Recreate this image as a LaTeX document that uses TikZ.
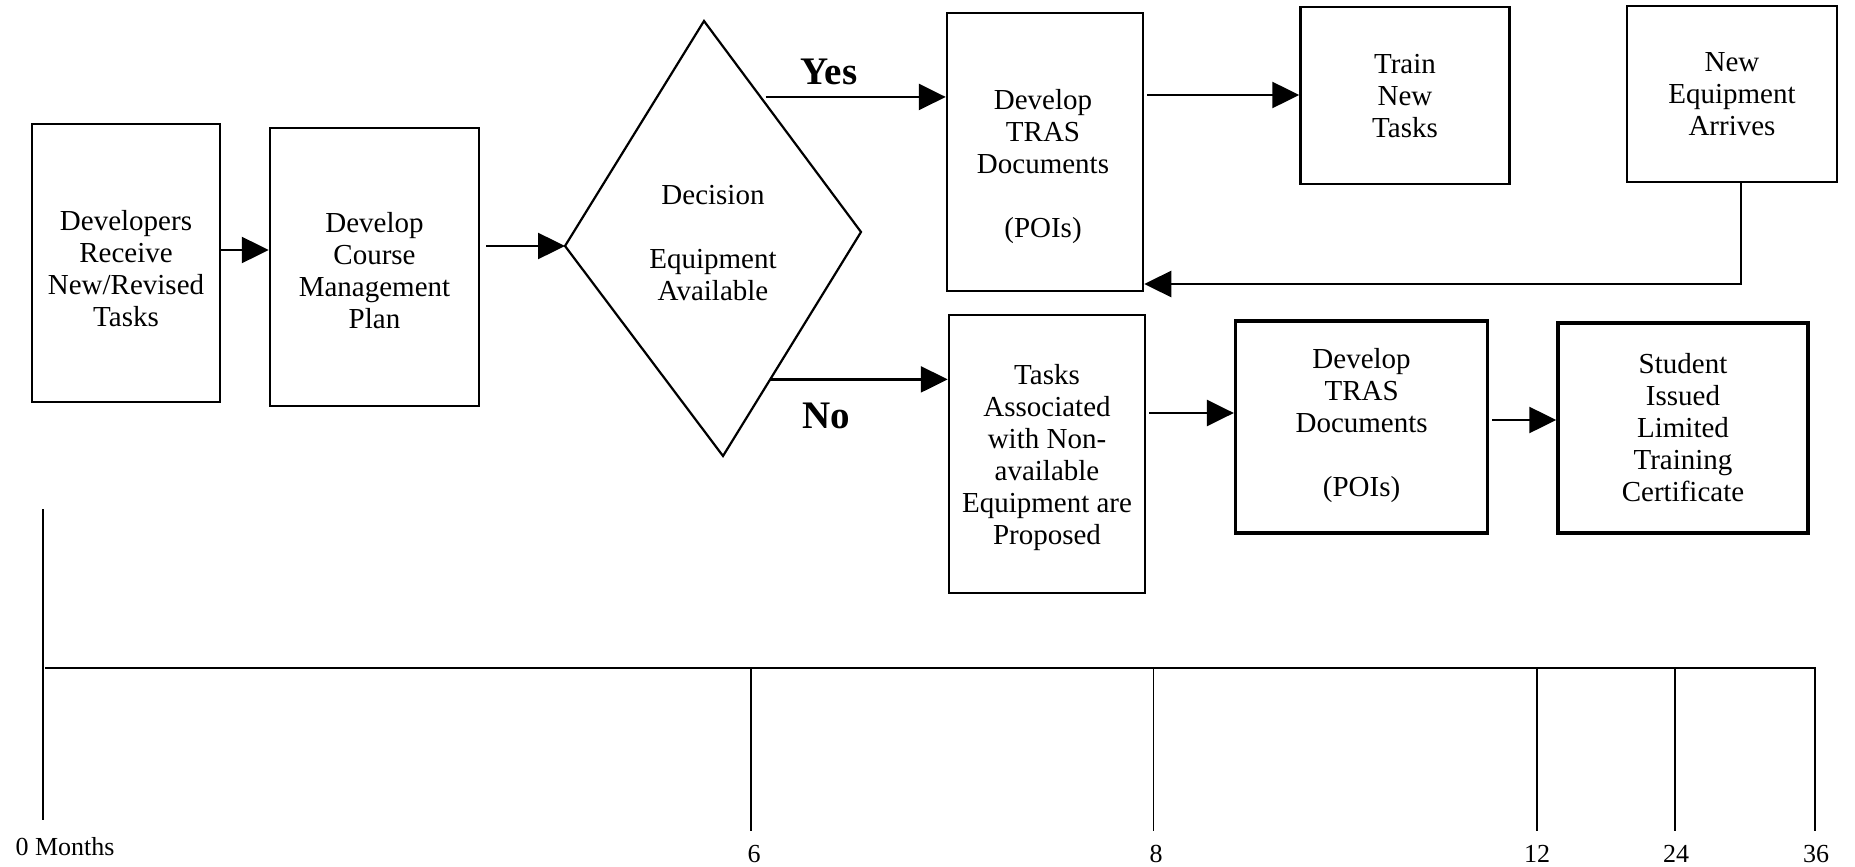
\documentclass[tikz,border=0pt]{standalone}
\usepackage{fontspec}
\setmainfont{Liberation Serif}
\usetikzlibrary{arrows.meta,calc}
\begin{document}
\begin{tikzpicture}[x=1pt,y=-1pt,
  box/.style={draw, line width=2.5pt, inner sep=0pt},
  heavybox/.style={box, line width=3.5pt},
  txt/.style={align=center, font=\fontsize{29}{32}\selectfont, inner sep=0pt},
  arr/.style={line width=2.5pt, -{Triangle[length=27pt,width=26pt]}},
  branch/.style={font=\fontsize{39}{44}\selectfont\bfseries, inner sep=0pt},
  axisline/.style={line width=2.5pt},
  tickline/.style={line width=1.8pt},
  month/.style={font=\fontsize{26}{30}\selectfont, anchor=base, inner sep=0pt}]
\useasboundingbox (0,0) rectangle (1855,867);

% ---- process boxes ----
\node[box, minimum width=188pt, minimum height=278pt] (b1) at (126,263) {};
\node[txt] (t1) at (126,268.5) {Developers\\Receive\\New/Revised\\Tasks};

\node[box, minimum width=209pt, minimum height=278pt] (b2) at (374.5,267) {};
\node[txt] (t2) at (374.5,271) {Develop\\Course\\Management\\Plan};

\node[box, minimum width=196pt, minimum height=278pt] (tras1) at (1045,152) {};
\node[txt] (t3) at (1043,167) {Develop\\TRAS\\Documents\\[32pt](POIs)};

\node[box, minimum width=209pt, minimum height=177pt] (train) at (1405,95.5) {};
\node[txt] (t4) at (1405,96.5) {Train\\New\\Tasks};

\node[box, minimum width=210pt, minimum height=176pt] (neq) at (1732,94) {};
\node[txt] (t5) at (1732,94) {New\\Equipment\\Arrives};

\node[box, minimum width=196pt, minimum height=278pt] (tasks) at (1047,454) {};
\node[txt] (t6) at (1047,458) {Tasks\\Associated\\with Non-\\available\\Equipment are\\Proposed};

\node[heavybox, minimum width=252pt, minimum height=212pt] (tras2) at (1361.6,427) {};
\node[txt] (t7) at (1361.6,425.5) {Develop\\TRAS\\Documents\\[32pt](POIs)};

\node[heavybox, minimum width=250pt, minimum height=210pt] (student) at (1683,428) {};
\node[txt] (t8) at (1683,428) {Student\\Issued\\Limited\\Training\\Certificate};

% ---- decision diamond ----
\coordinate (dL) at (565,246);
\coordinate (dT) at (704,21);
\coordinate (dR) at (861,232);
\coordinate (dB) at (723,456);
\draw[line width=2.2pt, line join=miter] (dL) -- (dT) -- (dR) -- (dB) -- cycle;
\node[txt] (t9) at (713,243) {Decision\\[32pt]Equipment\\Available};

% ---- connectors ----
\coordinate (a1) at ([yshift=13pt]b1.east);
\draw[arr] (a1) -- (a1 -| b2.west);

\coordinate (a2) at (b2.east |- dL);
\draw[arr, shorten <=6pt] (a2) -- (dL);

\coordinate (ys) at ($(dT)!0.36!(dR)$);
\draw[arr, shorten <=5pt] (ys) -- (ys -| tras1.west);
\node[branch] (yes) at (829,72) {Yes};

\coordinate (ns) at ($(dR)!0.658!(dB)$);
\draw[arr] (ns) -- (ns -| tasks.west);
\node[branch] (no) at (826,416) {No};

\coordinate (a3) at ([yshift=57pt]tras1.east);
\draw[arr, shorten <=3pt] (a3) -- (a3 -| train.west);

\coordinate (fb) at ([xshift=9pt]neq.south);
\coordinate (fe) at ([yshift=-132pt]tras1.east);
\draw[arr] (fb) |- (fe);

\coordinate (a4) at ([yshift=41pt]tasks.east);
\draw[arr, shorten <=3pt] (a4) -- (a4 -| tras2.west);

\coordinate (a5) at ([yshift=7pt]tras2.east);
\draw[arr, shorten <=3pt] (a5) -- (a5 -| student.west);

% ---- time line ----
\draw[line width=2pt] (42.6,509) -- (42.6,820);
\draw[axisline] (45,668) -- (1816,668);
\foreach \x in {751,1153.5,1537,1675,1815}
  \draw[tickline] (\x,668) -- (\x,831);
\node[month] (m0) at (65,855) {0 Months};
\node[month] (m6) at (754,862) {6};
\node[month] (m8) at (1156,862) {8};
\node[month] (m12) at (1537,862) {12};
\node[month] (m24) at (1676,862) {24};
\node[month] (m36) at (1816,862) {36};
\end{tikzpicture}
\end{document}
